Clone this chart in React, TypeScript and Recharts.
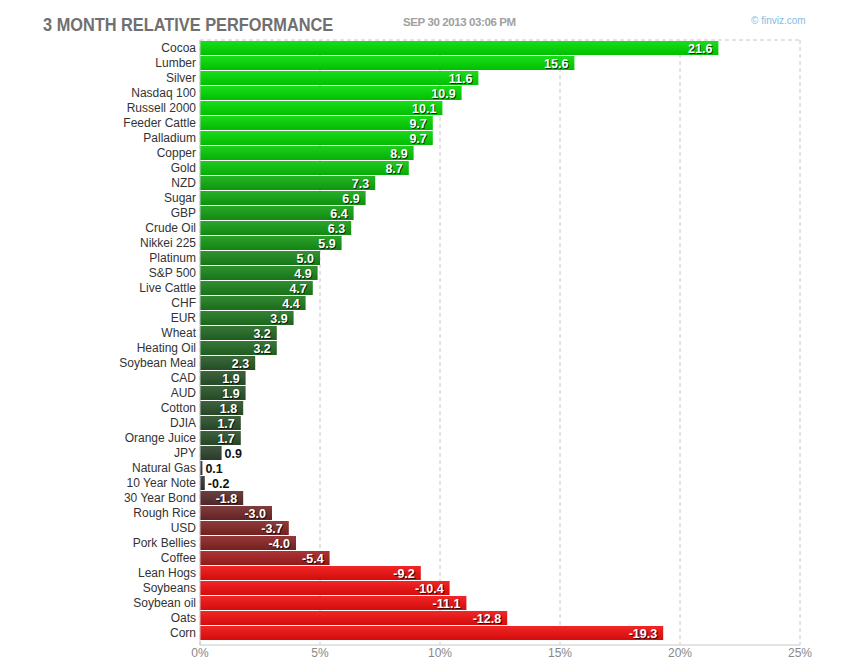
import React from 'react';
import { BarChart, Bar, XAxis, YAxis, CartesianGrid } from 'recharts';

const names = ['Cocoa','Lumber','Silver','Nasdaq 100','Russell 2000','Feeder Cattle','Palladium','Copper','Gold','NZD','Sugar','GBP','Crude Oil','Nikkei 225','Platinum','S&P 500','Live Cattle','CHF','EUR','Wheat','Heating Oil','Soybean Meal','CAD','AUD','Cotton','DJIA','Orange Juice','JPY','Natural Gas','10 Year Note','30 Year Bond','Rough Rice','USD','Pork Bellies','Coffee','Lean Hogs','Soybeans','Soybean oil','Oats','Corn'];
const values = [21.6,15.6,11.6,10.9,10.1,9.7,9.7,8.9,8.7,7.3,6.9,6.4,6.3,5.9,5.0,4.9,4.7,4.4,3.9,3.2,3.2,2.3,1.9,1.9,1.8,1.7,1.7,0.9,0.1,-0.2,-1.8,-3.0,-3.7,-4.0,-5.4,-9.2,-10.4,-11.1,-12.8,-19.3];
const xTicks = [0, 5, 10, 15, 20, 25];

const data = names.map((name, i) => ({ name, value: values[i], abs: Math.abs(values[i]) }));

const mix = (a: number[], b: number[], t: number) => a.map((v, i) => Math.round(v + (b[i] - v) * t));
const hex = (c: number[]) => '#' + c.map(v => Math.max(0, Math.min(255, v)).toString(16).padStart(2, '0')).join('');

function baseColor(v: number): number[] {
  const grey = [51, 51, 51];
  if (v >= 0) return mix(grey, [0, 218, 0], Math.min(v / 10, 1));
  return mix(grey, [240, 14, 14], Math.min(-v / 9, 1));
}

const BarShape = (props: any) => {
  const { x, y, width, height, payload, index } = props;
  const v = payload.value;
  const c = baseColor(v);
  const top = hex(mix(c, [255, 255, 255], 0.1));
  const bottom = hex(mix(c, [0, 0, 0], 0.12));
  const id = `g${index}`;
  const inside = Math.abs(v) >= 1.5;
  const label = v.toFixed(1);
  const cy = y + height / 2;
  return (
    <g>
      <defs>
        <linearGradient id={id} x1="0" y1="0" x2="0" y2="1">
          <stop offset="0%" stopColor={top} />
          <stop offset="100%" stopColor={bottom} />
        </linearGradient>
      </defs>
      <rect x={x} y={y} width={Math.max(width, 1)} height={height} fill={`url(#${id})`} />
      {inside ? (
        <g style={{ fontFamily: 'Arial, "Liberation Sans", sans-serif', fontWeight: 'bold', fontSize: 12.5 }}>
          <text x={x + width - 5} y={cy + 1} dy="0.36em" textAnchor="end" fill="#000" fillOpacity={0.7}>{label}</text>
          <text x={x + width - 6} y={cy} dy="0.36em" textAnchor="end" fill="#fff">{label}</text>
        </g>
      ) : (
        <text x={x + width + 3} y={cy} dy="0.36em" textAnchor="start" fill="#111" style={{ fontFamily: 'Arial, "Liberation Sans", sans-serif', fontWeight: 'bold', fontSize: 12.5 }}>{label}</text>
      )}
    </g>
  );
};

export default function App() {
  return (
    <div style={{ position: 'absolute', left: 0, top: 0, width: 850, height: 670, background: '#fff', fontFamily: 'Arial, "Liberation Sans", sans-serif' }}>
      <div style={{ position: 'absolute', left: 43, top: 14, fontSize: 19, fontWeight: 'bold', color: '#707070', whiteSpace: 'nowrap', transform: 'scaleX(0.86)', transformOrigin: 'left top' }}>3 MONTH RELATIVE PERFORMANCE</div>
      <div style={{ position: 'absolute', left: 403, top: 16, fontSize: 11.5, fontWeight: 'bold', color: '#a0a0a0', letterSpacing: -0.4, whiteSpace: 'nowrap' }}>SEP 30 2013 03:06 PM</div>
      <div style={{ position: 'absolute', left: 751, top: 15, fontSize: 10, color: '#86bbe6', whiteSpace: 'nowrap' }}>© finviz.com</div>
      <BarChart
        width={850}
        height={670}
        data={data}
        layout="vertical"
        margin={{ top: 40, right: 50, bottom: 0, left: 0 }}
        barSize={14}
        barCategoryGap={1}
      >
        <CartesianGrid
          stroke="#c8c8c8"
          strokeDasharray="4 3"
          horizontalCoordinatesGenerator={(p: any) => [p.offset.top]}
        />
        <XAxis
          type="number"
          dataKey="abs"
          domain={[0, 25]}
          ticks={xTicks}
          tickFormatter={(v: number) => `${v}%`}
          height={25}
          tickLine={false}
          tickSize={0}
          tickMargin={3}
          axisLine={{ stroke: '#c8c8c8' }}
          tick={{ fill: '#888', fontSize: 12 }}
          interval={0}
        />
        <YAxis
          type="category"
          dataKey="name"
          width={200}
          padding={{ top: 0, bottom: 5 }}
          tickLine={false}
          tickSize={0}
          tickMargin={4}
          axisLine={{ stroke: '#c8c8c8' }}
          tick={{ fill: '#333', fontSize: 12 }}
          interval={0}
        />
        <Bar dataKey="abs" isAnimationActive={false} shape={BarShape} />
      </BarChart>
    </div>
  );
}
